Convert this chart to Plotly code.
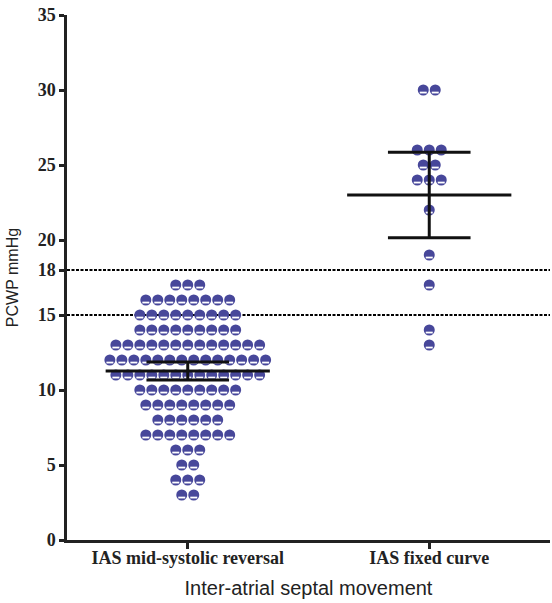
import plotly.graph_objects as go
import numpy as np

categories = ["IAS mid-systolic reversal", "IAS fixed curve"]

# Left group: PCWP values and number of patients at each value
left_values = [17, 16, 15, 14, 13, 12, 11, 10, 9, 8, 7, 6, 5, 4, 3]
left_counts = [3, 8, 9, 9, 13, 14, 13, 9, 8, 6, 8, 3, 2, 3, 2]

# Right group
right_values = [30, 26, 25, 24, 22, 19, 17, 14, 13]
right_counts = [2, 3, 2, 3, 1, 1, 1, 1, 1]

# Summary: mean with 95% CI
group_mean = [11.27, 23.0]
group_lower = [10.67, 20.15]
group_upper = [11.87, 25.85]

ref_lines = [18, 15]
y_ticks = [0, 5, 10, 15, 18, 20, 25, 30, 35]

DOT_STEP = 0.0496
MEAN_HALF = 0.34
CI_HALF = 0.171
DOT_COLOR = "#47479a"


def swarm(center, values, counts):
    xs, ys = [], []
    for v, n in zip(values, counts):
        for i in range(n):
            xs.append(center + (i - (n - 1) / 2) * DOT_STEP)
            ys.append(v)
    return np.array(xs), np.array(ys)


fig = go.Figure()

for yv in ref_lines:
    fig.add_hline(y=yv, line=dict(color="black", width=2, dash="3px,1.5px"), layer="below")

for gi, (vals, cnts) in enumerate([(left_values, left_counts), (right_values, right_counts)]):
    xs, ys = swarm(gi, vals, cnts)
    fig.add_trace(go.Scatter(x=xs, y=ys, mode="markers",
                             marker=dict(symbol="circle", size=11, color=DOT_COLOR, line=dict(width=0)),
                             showlegend=False, hoverinfo="skip"))
    fig.add_trace(go.Scatter(x=xs, y=ys - 0.17, mode="markers",
                             marker=dict(symbol="line-ew", size=5, line=dict(color="white", width=1.8)),
                             showlegend=False, hoverinfo="skip"))

# mean and CI bars
for gi in range(2):
    m, lo, hi = group_mean[gi], group_lower[gi], group_upper[gi]
    line = dict(color="#111111", width=3)
    fig.add_trace(go.Scatter(x=[gi - MEAN_HALF, gi + MEAN_HALF], y=[m, m], mode="lines",
                             line=line, showlegend=False, hoverinfo="skip"))
    fig.add_trace(go.Scatter(x=[gi - CI_HALF, gi + CI_HALF, None, gi - CI_HALF, gi + CI_HALF, None, gi, gi],
                             y=[hi, hi, None, lo, lo, None, lo, hi], mode="lines",
                             line=line, showlegend=False, hoverinfo="skip"))

tick_font = dict(family="Liberation Serif", size=18, color="#222222")

fig.update_layout(
    width=552, height=603,
    margin=dict(l=67, r=2, t=15, b=63),
    plot_bgcolor="white", paper_bgcolor="white",
    xaxis=dict(range=[-0.5, 1.5], tickmode="array", tickvals=[0, 1], ticktext=[f"<b>{c}</b>" for c in categories],
               showgrid=False, zeroline=False, showline=True, linecolor="#222222", linewidth=2.5,
               ticks="outside", ticklen=6, tickwidth=2.5, tickcolor="#222222", tickfont=tick_font,
               automargin=False, ticklabelstandoff=-6,
               title=dict(text="Inter-atrial septal movement", font=dict(family="Liberation Sans", size=20, color="#222222"),
                          standoff=14)),
    yaxis=dict(range=[0, 35], tickmode="array", tickvals=y_ticks, ticktext=[f"<b>{t}</b>" for t in y_ticks],
               showgrid=False, zeroline=False, showline=True, linecolor="#222222", linewidth=2.5,
               ticks="outside", ticklen=5, tickwidth=2.5, tickcolor="#222222", tickfont=tick_font,
               automargin=False, ticklabeloverflow="allow",
               title=dict(text="PCWP mmHg", font=dict(family="Liberation Sans", size=16, color="#222222"),
                          standoff=16)),
)

fig.write_html("out.html", config={"displayModeBar": False},
               post_script="document.body.style.margin='0';")
